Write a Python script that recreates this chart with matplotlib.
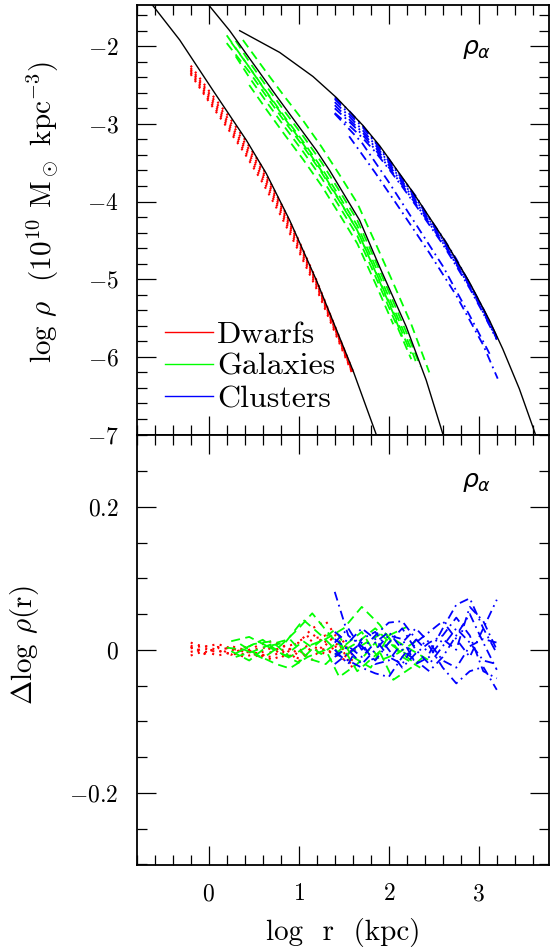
import matplotlib.pyplot as plt
from matplotlib.ticker import MultipleLocator, FuncFormatter
from matplotlib.lines import Line2D

plt.rcParams['font.family'] = ['cmr10', 'DejaVu Serif']
plt.rcParams['mathtext.fontset'] = 'cm'
plt.rcParams['axes.formatter.use_mathtext'] = True

# black model curves (top panel)
dwarf_fit_x = [-0.70, -0.625, -0.322, 0.048, 0.418, 0.640, 0.899, 1.195, 1.601, 1.861, 1.90]
dwarf_fit_y = [-1.36, -1.47, -1.92, -2.57, -3.21, -3.64, -4.24, -5.01, -6.17, -7.00, -7.13]
gal_fit_x = [-0.05, 0.0, 0.233, 0.758, 1.195, 1.343, 1.676, 1.898, 2.194, 2.416, 2.60, 2.65]
gal_fit_y = [-1.40, -1.47, -1.80, -2.65, -3.34, -3.60, -4.24, -4.84, -5.61, -6.30, -6.99, -7.20]
clus_fit_x = [0.344, 0.788, 1.158, 1.417, 1.713, 1.898, 2.268, 2.638, 2.897, 3.119, 3.267, 3.45, 3.60, 3.65]
clus_fit_y = [-1.80, -2.08, -2.39, -2.66, -3.02, -3.28, -3.88, -4.53, -5.04, -5.53, -5.90, -6.41, -6.90, -7.07]

# dwarfs: density profiles
dwarf_x = [-0.2, 0.0, 0.2, 0.4, 0.6, 0.8, 1.0, 1.2, 1.4, 1.6]
dwarf_y = [
    [-2.25, -2.57, -2.87, -3.20, -3.57, -4.02, -4.50, -5.02, -5.60, -6.18],
    [-2.28, -2.60, -2.91, -3.24, -3.61, -4.05, -4.53, -5.04, -5.61, -6.19],
    [-2.30, -2.63, -2.95, -3.28, -3.64, -4.08, -4.55, -5.06, -5.63, -6.20],
    [-2.32, -2.66, -2.98, -3.31, -3.68, -4.11, -4.58, -5.08, -5.64, -6.21],
    [-2.34, -2.69, -3.01, -3.35, -3.72, -4.14, -4.61, -5.10, -5.66, -6.22],
    [-2.36, -2.71, -3.04, -3.38, -3.76, -4.18, -4.64, -5.13, -5.68, -6.23],
]

# galaxies: density profiles
gal_x = [
    [0.38, 0.65, 0.85, 1.05, 1.25, 1.45, 1.65, 1.85, 2.05, 2.25, 2.45],
    [0.30, 0.45, 0.65, 0.85, 1.05, 1.25, 1.45, 1.65, 1.85, 2.05, 2.25, 2.35],
    [0.25, 0.45, 0.65, 0.85, 1.05, 1.25, 1.45, 1.65, 1.85, 2.05, 2.25, 2.30],
    [0.20, 0.45, 0.65, 0.85, 1.05, 1.25, 1.45, 1.65, 1.85, 2.05, 2.25],
    [0.30, 0.45, 0.65, 0.85, 1.05, 1.25, 1.45, 1.65, 1.85, 2.05, 2.25],
    [0.20, 0.45, 0.65, 0.85, 1.05, 1.25, 1.45, 1.65, 1.85, 2.05, 2.15],
    [0.45, 0.65, 0.85, 1.05, 1.25, 1.45, 1.65, 1.85, 2.05],
]
gal_y = [
    [-1.92, -2.35, -2.66, -2.96, -3.29, -3.65, -4.02, -4.53, -5.05, -5.58, -6.20],
    [-1.93, -2.20, -2.53, -2.85, -3.16, -3.49, -3.86, -4.24, -4.76, -5.29, -5.83, -6.12],
    [-1.95, -2.27, -2.60, -2.92, -3.23, -3.56, -3.93, -4.31, -4.83, -5.36, -5.90, -6.06],
    [-1.96, -2.33, -2.66, -2.98, -3.29, -3.62, -3.99, -4.37, -4.89, -5.42, -5.96],
    [-2.13, -2.40, -2.73, -3.05, -3.36, -3.69, -4.06, -4.44, -4.96, -5.49, -6.03],
    [-1.86, -2.27, -2.61, -2.94, -3.26, -3.60, -3.98, -4.37, -4.90, -5.44, -5.74],
    [-2.50, -2.83, -3.15, -3.46, -3.79, -4.16, -4.54, -5.05, -5.58],
]

# clusters: density profiles
clus_grid = [1.40, 1.55, 1.70, 1.85, 2.00, 2.15, 2.30, 2.45, 2.60, 2.75, 2.90, 3.05, 3.20]
clus_x = [clus_grid] * 6 + [
    [1.56, 1.85, 2.15, 2.45, 2.75, 3.05, 3.21],
    [1.40, 1.70, 2.00, 2.30, 2.60, 2.90, 3.12],
]
clus_y = [
    [-2.68, -2.86, -3.03, -3.24, -3.48, -3.71, -3.96, -4.22, -4.48, -4.76, -5.06, -5.39, -5.74],
    [-2.72, -2.89, -3.07, -3.27, -3.50, -3.74, -3.98, -4.24, -4.49, -4.78, -5.07, -5.40, -5.75],
    [-2.76, -2.93, -3.10, -3.30, -3.53, -3.76, -4.00, -4.26, -4.51, -4.79, -5.09, -5.41, -5.76],
    [-2.80, -2.96, -3.13, -3.33, -3.56, -3.79, -4.03, -4.28, -4.53, -4.81, -5.10, -5.43, -5.77],
    [-2.86, -3.01, -3.17, -3.36, -3.58, -3.81, -4.05, -4.30, -4.55, -4.83, -5.12, -5.44, -5.78],
    [-2.66, -2.82, -3.01, -3.23, -3.45, -3.70, -3.93, -4.21, -4.46, -4.74, -5.06, -5.38, -5.75],
    [-3.16, -3.63, -4.14, -4.66, -5.21, -5.85, -6.28],
    [-2.87, -3.24, -3.75, -4.29, -4.83, -5.47, -5.96],
]

# residuals (bottom panel)
dwarf_rx = [-0.2, -0.05, 0.1, 0.25, 0.4, 0.55, 0.7, 0.85, 1.0, 1.15, 1.3, 1.45, 1.6]
dwarf_res = [
    [0.010, 0.004, 0.008, 0.002, -0.003, 0.006, 0.012, 0.004, 0.010, 0.030, 0.040, 0.012, -0.005],
    [-0.003, 0.002, -0.004, 0.005, 0.000, -0.006, 0.003, -0.004, 0.012, 0.022, 0.008, -0.004, -0.015],
    [0.006, -0.005, 0.003, -0.007, 0.004, -0.010, -0.003, 0.006, -0.008, 0.015, 0.020, 0.005, -0.010],
    [-0.008, -0.002, -0.008, -0.004, -0.010, -0.004, -0.014, -0.006, -0.012, 0.004, 0.000, -0.010, -0.020],
    [0.002, 0.006, -0.001, -0.006, -0.006, 0.002, 0.004, -0.012, 0.002, -0.014, 0.012, 0.020, -0.008],
    [0.004, -0.006, 0.004, 0.000, -0.002, -0.008, -0.010, 0.002, -0.016, 0.002, -0.006, 0.008, -0.026],
]

gal_rx = [
    [0.25, 0.45, 0.65, 0.85, 1.05, 1.25, 1.45, 1.65, 1.85, 2.05, 2.25],
    [0.30, 0.50, 0.70, 0.90, 1.10, 1.30, 1.50, 1.70, 1.90, 2.10, 2.30],
    [0.20, 0.40, 0.60, 0.80, 1.00, 1.15, 1.35, 1.55, 1.75, 1.95, 2.15, 2.35],
    [0.35, 0.55, 0.75, 0.90, 1.10, 1.30, 1.45, 1.65, 1.85, 2.05, 2.25, 2.40],
    [0.30, 0.50, 0.70, 0.90, 1.10, 1.30, 1.50, 1.70, 1.90, 2.10, 2.30],
    [0.40, 0.60, 0.80, 1.00, 1.20, 1.40, 1.60, 1.80, 2.00, 2.20],
    [0.25, 0.45, 0.65, 0.85, 1.05, 1.25, 1.45, 1.65, 1.85, 2.05, 2.25, 2.45],
]
gal_res = [
    [0.012, 0.018, 0.005, 0.010, 0.042, 0.020, -0.005, 0.010, 0.030, 0.005, -0.010],
    [-0.005, 0.008, 0.012, -0.010, 0.005, 0.015, 0.030, 0.060, 0.035, 0.000, -0.020],
    [0.003, 0.000, -0.012, 0.006, 0.030, 0.051, 0.020, -0.005, 0.010, 0.025, -0.010, -0.025],
    [0.008, -0.008, -0.020, -0.026, -0.010, 0.000, -0.038, -0.020, 0.010, -0.042, -0.025, -0.008],
    [-0.010, -0.002, 0.008, 0.015, -0.012, -0.020, 0.005, 0.025, -0.015, -0.005, 0.012],
    [0.002, 0.014, -0.005, -0.018, 0.008, 0.028, -0.010, -0.025, 0.020, 0.032],
    [-0.002, -0.015, 0.005, -0.008, 0.012, -0.006, 0.012, -0.030, -0.008, 0.015, 0.000, -0.015],
]

clus_rx = [1.40, 1.55, 1.70, 1.85, 2.00, 2.15, 2.30, 2.45, 2.60, 2.75, 2.90, 3.05, 3.20]
clus_res = [
    [0.081, 0.020, 0.005, -0.015, 0.010, 0.030, 0.000, -0.020, 0.005, 0.030, 0.010, -0.015, -0.020],
    [0.010, 0.030, 0.000, 0.020, 0.038, 0.040, 0.015, -0.005, 0.030, 0.063, 0.072, 0.030, -0.005],
    [-0.005, -0.015, -0.025, -0.033, -0.038, -0.010, 0.014, 0.005, -0.025, -0.047, -0.030, -0.024, -0.056],
    [0.025, 0.010, 0.030, 0.015, -0.010, -0.020, 0.010, 0.025, 0.040, 0.015, -0.010, 0.030, 0.070],
    [-0.010, 0.005, -0.010, 0.010, 0.025, 0.000, -0.015, -0.030, -0.010, 0.020, 0.050, 0.010, -0.028],
    [0.000, -0.020, 0.015, 0.025, 0.000, -0.025, -0.005, 0.010, 0.020, 0.045, 0.020, -0.030, -0.040],
    [0.015, 0.000, -0.020, 0.000, 0.020, 0.015, -0.020, -0.010, 0.015, 0.000, 0.060, 0.040, 0.000],
    [-0.020, -0.005, 0.010, -0.020, -0.015, 0.010, 0.030, 0.010, -0.015, -0.025, 0.005, 0.015, 0.010],
]

red_style = dict(color='#ff0000', ls=(0, (1, 2.6)), lw=1.5)
green_style = dict(color='#00ff00', ls=(0, (5, 3)), lw=1.3)
blue_style = dict(color='#0000ff', ls=(0, (5, 2.5, 1, 2.5)), lw=1.3)


def fmt(v, pos):
    v = round(v, 3)
    if abs(v) < 1e-9:
        v = 0
    return f'${v:g}$'


fig = plt.figure(figsize=(5.5, 9.49), dpi=100)
ax1 = fig.add_axes([0.2485, 0.5421, 0.7497, 0.4526])
ax2 = fig.add_axes([0.2485, 0.0885, 0.7497, 0.4536])

# top panel
for y in dwarf_y:
    ax1.plot(dwarf_x, y, **red_style)
for x, y in zip(gal_x, gal_y):
    ax1.plot(x, y, **green_style)
for x, y in zip(clus_x, clus_y):
    ax1.plot(x, y, **blue_style)
for x, y in [(dwarf_fit_x, dwarf_fit_y), (gal_fit_x, gal_fit_y), (clus_fit_x, clus_fit_y)]:
    ax1.plot(x, y, color='black', lw=1.0)

# bottom panel
for r in dwarf_res:
    ax2.plot(dwarf_rx, r, **red_style)
for x, r in zip(gal_rx, gal_res):
    ax2.plot(x, r, **green_style)
for r in clus_res:
    ax2.plot(clus_rx, r, **blue_style)

ax1.set_xlim(-0.8, 3.78)
ax2.set_xlim(-0.8, 3.78)
ax1.set_ylim(-7, -1.47)
ax2.set_ylim(-0.301, 0.301)

for ax in (ax1, ax2):
    ax.xaxis.set_major_locator(MultipleLocator(1))
    ax.xaxis.set_minor_locator(MultipleLocator(0.2))
    ax.xaxis.set_major_formatter(FuncFormatter(fmt))
    ax.yaxis.set_major_formatter(FuncFormatter(fmt))
    ax.tick_params(which='both', direction='in', top=True, right=True,
                   labelsize=17, pad=13, width=0.9)
    ax.tick_params(which='major', length=13.5)
    ax.tick_params(which='minor', length=7)
    for s in ax.spines.values():
        s.set_linewidth(1.3)

ax1.yaxis.set_major_locator(MultipleLocator(1))
ax1.yaxis.set_minor_locator(MultipleLocator(0.2))
ax2.yaxis.set_major_locator(MultipleLocator(0.2))
ax2.yaxis.set_minor_locator(MultipleLocator(0.05))
ax1.tick_params(labelbottom=False)

ax1.text(0.79, 0.886, r'$\rho_\alpha$', transform=ax1.transAxes,
         fontsize=18, math_fontfamily='dejavusans')
ax2.text(0.79, 0.878, r'$\rho_\alpha$', transform=ax2.transAxes,
         fontsize=18, math_fontfamily='dejavusans')

handles = [Line2D([], [], color='#ff0000', lw=1.0),
           Line2D([], [], color='#00ff00', lw=1.0),
           Line2D([], [], color='#0000ff', lw=1.0)]
ax1.legend(handles, ['Dwarfs', 'Galaxies', 'Clusters'], loc='lower left',
           bbox_to_anchor=(0.068, 0.05), frameon=False, fontsize=23,
           handlelength=1.5, handletextpad=0.15, labelspacing=0.12,
           borderpad=0, borderaxespad=0)

fig.text(0.078, 0.7766, r'log $\rho$  (10$^{10}$ M$_\odot$ kpc$^{-3}$)',
         rotation=90, ha='center', va='center', fontsize=21)
fig.text(0.044, 0.3203, r'$\Delta$log $\rho$(r)', rotation=90,
         ha='center', va='center', fontsize=21)
fig.text(0.6236, 0.0169, 'log  r  (kpc)', ha='center', va='center', fontsize=21)

fig.savefig('out.png', dpi=100)
